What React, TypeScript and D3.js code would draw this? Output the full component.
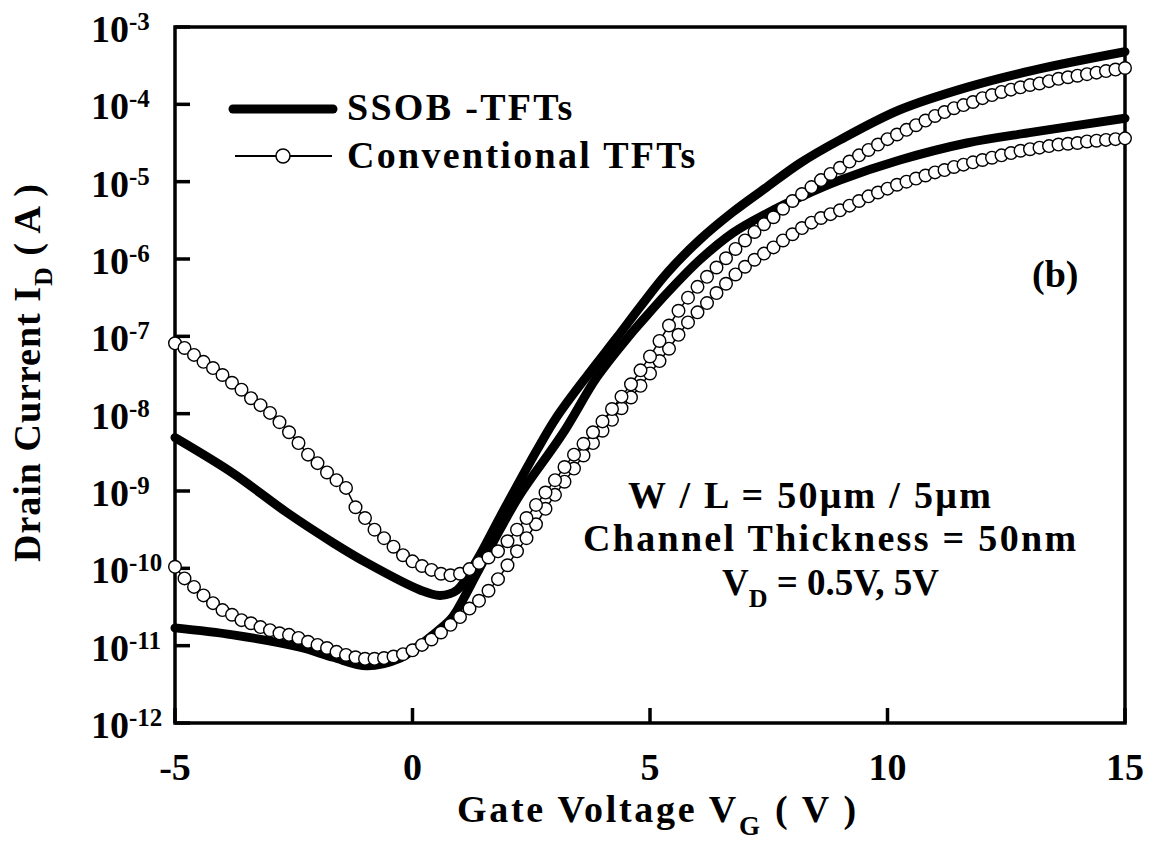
import React from "react";
import * as d3 from "d3";

// Gate-voltage sweep used for the conventional TFT measurements (V)
const VG_SWEEP = [
  -5, -4.8, -4.6, -4.4, -4.2, -4, -3.8, -3.6, -3.4, -3.2,
  -3, -2.8, -2.6, -2.4, -2.2, -2, -1.8, -1.6, -1.4, -1.2,
  -1, -0.8, -0.6, -0.4, -0.2, 0, 0.2, 0.4, 0.6, 0.8,
  1, 1.2, 1.4, 1.6, 1.8, 2, 2.2, 2.4, 2.6, 2.8,
  3, 3.2, 3.4, 3.6, 3.8, 4, 4.2, 4.4, 4.6, 4.8,
  5, 5.2, 5.4, 5.6, 5.8, 6, 6.2, 6.4, 6.6, 6.8,
  7, 7.2, 7.4, 7.6, 7.8, 8, 8.2, 8.4, 8.6, 8.8,
  9, 9.2, 9.4, 9.6, 9.8, 10, 10.2, 10.4, 10.6, 10.8,
  11, 11.2, 11.4, 11.6, 11.8, 12, 12.2, 12.4, 12.6, 12.8,
  13, 13.2, 13.4, 13.6, 13.8, 14, 14.2, 14.4, 14.6, 14.8,
  15,
];

// Conventional TFT, VD = 5 V : log10(ID / A)
const CONV_5V_LOG_ID = [
  -7.09, -7.15, -7.24, -7.33, -7.41, -7.5, -7.6, -7.69, -7.8, -7.89,
  -7.99, -8.11, -8.24, -8.38, -8.53, -8.64, -8.76, -8.86, -8.96, -9.21,
  -9.35, -9.5, -9.61, -9.72, -9.83, -9.91, -9.97, -10.02, -10.07, -10.09,
  -10.07, -10.01, -9.93, -9.86, -9.78, -9.65, -9.5, -9.35, -9.18, -9.02,
  -8.86, -8.69, -8.53, -8.39, -8.24, -8.1, -7.94, -7.78, -7.62, -7.44,
  -7.26, -7.06, -6.86, -6.67, -6.5, -6.36, -6.23, -6.11, -5.99, -5.87,
  -5.76, -5.65, -5.55, -5.46, -5.35, -5.25, -5.16, -5.07, -4.98, -4.9,
  -4.82, -4.74, -4.66, -4.59, -4.52, -4.45, -4.39, -4.33, -4.27, -4.21,
  -4.15, -4.1, -4.05, -4.01, -3.97, -3.92, -3.88, -3.84, -3.81, -3.78,
  -3.75, -3.73, -3.7, -3.67, -3.65, -3.63, -3.61, -3.59, -3.57, -3.55,
  -3.53,
];

// Conventional TFT, VD = 0.5 V : log10(ID / A)
const CONV_05V_LOG_ID = [
  -9.98, -10.13, -10.24, -10.35, -10.45, -10.54, -10.6, -10.67, -10.71, -10.76,
  -10.8, -10.84, -10.86, -10.9, -10.95, -10.99, -11.03, -11.08, -11.12, -11.15,
  -11.17, -11.17, -11.16, -11.14, -11.11, -11.06, -10.99, -10.92, -10.83, -10.73,
  -10.63, -10.52, -10.42, -10.29, -10.14, -9.96, -9.78, -9.61, -9.43, -9.23,
  -9.05, -8.88, -8.71, -8.54, -8.38, -8.22, -8.08, -7.93, -7.79, -7.64,
  -7.48, -7.32, -7.16, -6.98, -6.82, -6.69, -6.57, -6.44, -6.32, -6.2,
  -6.1, -6.01, -5.93, -5.85, -5.76, -5.68, -5.6, -5.53, -5.47, -5.42,
  -5.37, -5.31, -5.25, -5.19, -5.14, -5.09, -5.04, -5.0, -4.96, -4.92,
  -4.88, -4.85, -4.81, -4.78, -4.75, -4.72, -4.69, -4.66, -4.63, -4.6,
  -4.58, -4.56, -4.54, -4.52, -4.51, -4.5, -4.48, -4.47, -4.46, -4.45,
  -4.44,
];

// SSOB TFT, VD = 5 V
const SSOB_5V_VG = [
  -5, -3.78, -2.64, -1.67, -0.96, 0.16, 0.58, 0.94, 1.36, 1.84, 2.62, 3.04, 3.74,
  4.31, 4.79, 5.36, 6.05, 6.75, 7.46, 8.16, 9.0, 10.26, 11.67, 13.06, 15,
];
const SSOB_5V_LOG_ID = [
  -8.31, -8.77, -9.28, -9.67, -9.93, -10.28, -10.35, -10.28, -9.89, -9.34, -8.47, -8.04, -7.46,
  -7.01, -6.62, -6.18, -5.75, -5.39, -5.07, -4.76, -4.46, -4.07, -3.78, -3.56, -3.32,
];

// SSOB TFT, VD = 0.5 V
const SSOB_05V_VG = [
  -5, -3.78, -2.37, -1.67, -0.96, -0.26, 0.09, 0.37, 0.79, 0.94, 1.36, 1.84, 2.26, 3.17,
  3.88, 4.54, 4.85, 5.36, 6.05, 6.75, 7.46, 8.16, 9.0, 10.26, 11.67, 13.06, 15,
];
const SSOB_05V_LOG_ID = [
  -10.77, -10.86, -11.02, -11.15, -11.26, -11.16, -11.02, -10.89, -10.67, -10.54, -10.06, -9.5, -9.05, -8.25,
  -7.53, -7.01, -6.79, -6.44, -6.01, -5.66, -5.41, -5.2, -4.98, -4.72, -4.5, -4.36, -4.18,
];

const X_TICKS = [-5, 0, 5, 10, 15];
const Y_EXPONENTS = [-3, -4, -5, -6, -7, -8, -9, -10, -11, -12];

const LEGEND = ["SSOB -TFTs", "Conventional TFTs"];
const NOTE_LINE1 = "W / L = 50\u03bcm / 5\u03bcm";
const NOTE_LINE2 = "Channel Thickness = 50nm";
const NOTE_LINE3_SUFFIX = " = 0.5V, 5V";

const W = 1152;
const H = 857;
const FONT = '"Liberation Serif", "Times New Roman", serif';

export default function App() {
  const x = d3.scaleLinear().domain([-5, 15]).range([175, 1125]);
  const y = d3.scaleLog().domain([1e-12, 1e-3]).range([723, 27]);

  const toPoints = (vg: number[], logId: number[]): [number, number][] =>
    vg.map((v, i) => [x(v), y(Math.pow(10, logId[i]))]);

  const smooth = d3.line().curve(d3.curveCatmullRom.alpha(0.5));
  const straight = d3.line();

  const ssob = [
    toPoints(SSOB_05V_VG, SSOB_05V_LOG_ID),
    toPoints(SSOB_5V_VG, SSOB_5V_LOG_ID),
  ];
  const conv = [
    toPoints(VG_SWEEP, CONV_05V_LOG_ID),
    toPoints(VG_SWEEP, CONV_5V_LOG_ID),
  ];

  const [x0, x1] = x.range();
  const [y0, y1] = y.range();
  const textStyle = { fontFamily: FONT, fontWeight: 700 as const };

  return (
    <svg
      width={W}
      height={H}
      viewBox={`0 0 ${W} ${H}`}
      style={{ position: "absolute", left: 0, top: 0, background: "#fff" }}
    >
      <rect x={0} y={0} width={W} height={H} fill="#fff" />

      {/* frame */}
      <rect
        x={x0}
        y={y1}
        width={x1 - x0}
        height={y0 - y1}
        fill="none"
        stroke="#000"
        strokeWidth={3.5}
      />

      {/* x ticks and labels */}
      {X_TICKS.map((t) => (
        <g key={`xt${t}`}>
          <line x1={x(t)} x2={x(t)} y1={y0} y2={y0 - 15} stroke="#000" strokeWidth={3.5} />
          <text x={x(t)} y={780} textAnchor="middle" fontSize={38} {...textStyle}>
            {t}
          </text>
        </g>
      ))}

      {/* y ticks and labels */}
      {Y_EXPONENTS.map((e) => {
        const yy = y(Math.pow(10, e));
        return (
          <g key={`yt${e}`}>
            <line x1={x0} x2={x0 + 15} y1={yy} y2={yy} stroke="#000" strokeWidth={3.5} />
            <text x={91} y={yy + 15} fontSize={38} {...textStyle}>
              10
              <tspan dy={-12} fontSize={25}>
                {`-${Math.abs(e)}`}
              </tspan>
            </text>
          </g>
        );
      })}

      {/* axis titles */}
      <text x={457} y={822} fontSize={38} letterSpacing={2.7} {...textStyle}>
        Gate Voltage V
        <tspan dy={13} fontSize={27}>G</tspan>
        <tspan dy={-13}> ( V )</tspan>
      </text>
      <text
        transform={`translate(40,562) rotate(-90)`}
        fontSize={38}
        letterSpacing={1}
        {...textStyle}
      >
        Drain Current I
        <tspan dy={12} fontSize={26}>D</tspan>
        <tspan dy={-12}> ( A )</tspan>
      </text>

      {/* SSOB TFT curves */}
      {ssob.map((pts, i) => (
        <path
          key={`s${i}`}
          d={smooth(pts) || ""}
          fill="none"
          stroke="#000"
          strokeWidth={9}
          strokeLinecap="round"
          strokeLinejoin="round"
        />
      ))}

      {/* conventional TFT curves */}
      {conv.map((pts, i) => (
        <g key={`c${i}`}>
          <path d={straight(pts) || ""} fill="none" stroke="#000" strokeWidth={1.5} />
          {pts.map(([px, py], j) => (
            <circle key={j} cx={px} cy={py} r={6.3} fill="#fff" stroke="#000" strokeWidth={1.4} />
          ))}
        </g>
      ))}

      {/* legend */}
      <line x1={233} x2={333} y1={109} y2={109} stroke="#000" strokeWidth={9} strokeLinecap="round" />
      <text x={347} y={120} fontSize={38} letterSpacing={2.3} {...textStyle}>
        {LEGEND[0]}
      </text>
      <line x1={235} x2={332} y1={156} y2={156} stroke="#000" strokeWidth={2} />
      <circle cx={283} cy={156} r={7} fill="#fff" stroke="#000" strokeWidth={1.5} />
      <text x={347} y={168} fontSize={38} letterSpacing={2.3} {...textStyle}>
        {LEGEND[1]}
      </text>

      {/* panel label */}
      <text x={1032} y={287} fontSize={38} {...textStyle}>
        (b)
      </text>

      {/* device notes */}
      <text x={628} y={508} fontSize={38} letterSpacing={2.3} {...textStyle}>
        {NOTE_LINE1}
      </text>
      <text x={583} y={551} fontSize={38} letterSpacing={2.3} {...textStyle}>
        {NOTE_LINE2}
      </text>
      <text x={722} y={595} fontSize={37} {...textStyle}>
        V
        <tspan dy={12} fontSize={26}>D</tspan>
        <tspan dy={-12}>{NOTE_LINE3_SUFFIX}</tspan>
      </text>
    </svg>
  );
}
